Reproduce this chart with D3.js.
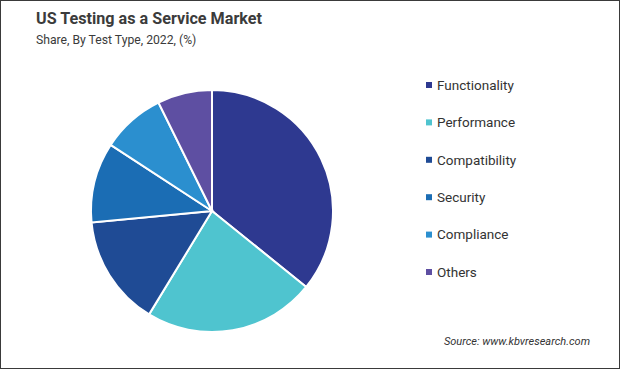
<!DOCTYPE html>
<html>
<head>
<meta charset="utf-8">
<script src="https://cdn.jsdelivr.net/npm/d3@7"></script>
<style>
  html, body { margin: 0; padding: 0; background: #fff; }
  svg { display: block; font-family: Roboto, "Noto Sans", sans-serif; }
</style>
</head>
<body>
<svg id="chart" width="620" height="369"></svg>
<script>
// test type shares
const categories = ['Functionality', 'Performance', 'Compatibility', 'Security', 'Compliance', 'Others'];
const shares = [35.8, 22.9, 14.8, 10.7, 8.5, 7.3];
const colors = ['#2e3990', '#4fc4cf', '#1f4b95', '#1b6db4', '#2b8fcf', '#5e4fa2'];

const svg = d3.select('#chart');
const W = 620, H = 369;

// frame
svg.append('rect')
  .attr('x', 0.5).attr('y', 0.5)
  .attr('width', W - 1).attr('height', H - 1)
  .attr('fill', '#fff')
  .attr('stroke', '#3a3a3a');

// titles
svg.append('text')
  .attr('x', 36).attr('y', 24)
  .attr('font-size', 16.8).attr('font-weight', 'bold')
  .attr('textLength', 226).attr('lengthAdjust', 'spacingAndGlyphs')
  .attr('fill', '#3b3b3b')
  .text('US Testing as a Service Market');
svg.append('text')
  .attr('x', 36).attr('y', 44)
  .attr('font-size', 12.2)
  .attr('fill', '#3b3b3b')
  .text('Share, By Test Type, 2022, (%)');

// pie
const data = categories.map((c, i) => ({name: c, value: shares[i]}));
const color = d3.scaleOrdinal().domain(categories).range(colors);
const pie = d3.pie().value(d => d.value).sort(null);
const arc = d3.arc().innerRadius(0).outerRadius(121);

const g = svg.append('g').attr('transform', 'translate(212,211)');
g.selectAll('path')
  .data(pie(data))
  .enter().append('path')
    .attr('d', arc)
    .attr('fill', d => color(d.data.name))
    .attr('stroke', '#fff')
    .attr('stroke-width', 2);

// legend
const legendY = d3.scalePoint().domain(categories).range([85, 272]);
const legend = svg.append('g');
const item = legend.selectAll('g')
  .data(categories)
  .enter().append('g')
    .attr('transform', d => `translate(426,${legendY(d)})`);
item.append('rect')
  .attr('x', 0).attr('y', -3)
  .attr('width', 6).attr('height', 6)
  .attr('fill', d => color(d));
item.append('text')
  .attr('x', 11).attr('y', 0)
  .attr('dy', '0.35em')
  .attr('font-size', 13.5)
  .attr('fill', '#333')
  .text(d => d);

// source
svg.append('text')
  .attr('x', 590).attr('y', 345)
  .attr('text-anchor', 'end')
  .attr('font-size', 11)
  .attr('font-style', 'italic')
  .attr('fill', '#333')
  .text('Source: www.kbvresearch.com');
</script>
</body>
</html>
